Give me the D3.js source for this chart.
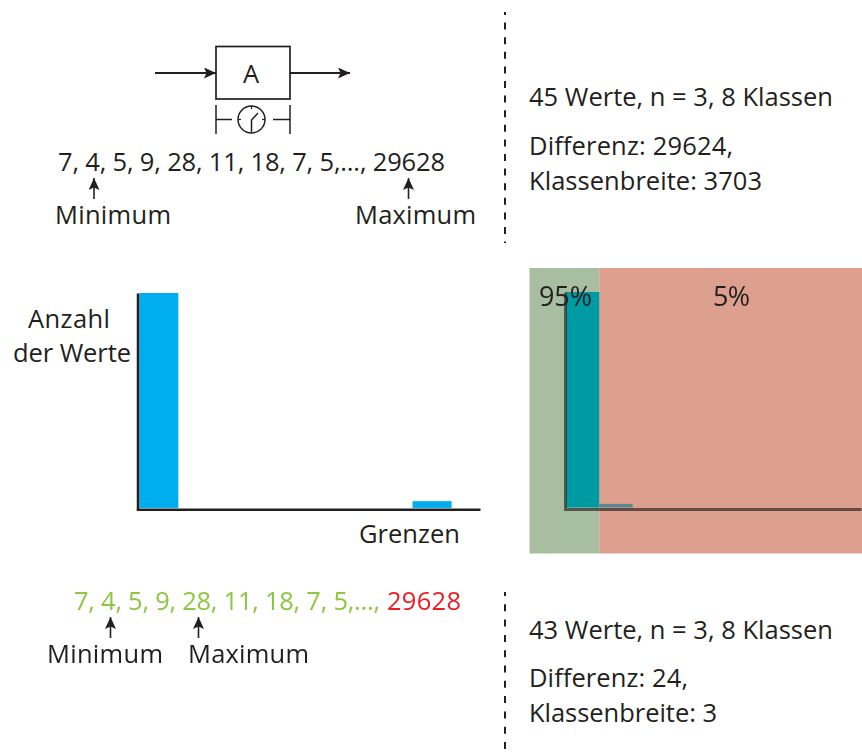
<!DOCTYPE html>
<html>
<head>
<meta charset="utf-8">
<script src="https://cdn.jsdelivr.net/npm/d3@7"></script>
<style>
  html, body { margin: 0; padding: 0; background: #fff; }
  svg { display: block; }
  text { font-family: "Open Sans", sans-serif; font-size: 25.5px; fill: #231f20; }
</style>
</head>
<body>
<div id="my_dataviz"></div>
<script>
// --- Data ---
const classes = [1, 2, 3, 4, 5, 6, 7, 8];
const countsAll = [43, 0, 0, 0, 0, 0, 0, 1.6];
const countsZones = [43, 1, 0, 0, 0, 0, 0, 0];
const shareLabels = ["95%", "5%"];
const rawValues = "7, 4, 5, 9, 28, 11, 18, 7, 5,...,";
const outlier = "29628";
const upperNotes = ["45 Werte, n = 3, 8 Klassen", "Differenz: 29624,", "Klassenbreite: 3703"];
const lowerNotes = ["43 Werte, n = 3, 8 Klassen", "Differenz: 24,", "Klassenbreite: 3"];

const svg = d3.select("#my_dataviz")
  .append("svg")
  .attr("width", 862)
  .attr("height", 755);

const ink = "#231f20";

svg.append("defs").append("marker")
  .attr("id", "head")
  .attr("viewBox", "0 0 12 11")
  .attr("refX", 12)
  .attr("refY", 5.5)
  .attr("markerUnits", "userSpaceOnUse")
  .attr("markerWidth", 12)
  .attr("markerHeight", 11)
  .attr("orient", "auto")
  .append("path")
  .attr("d", "M0,0 L12,5.5 L0,11 L2.5,5.5 Z")
  .attr("fill", ink);

function line(x1, y1, x2, y2, width, arrow) {
  const l = svg.append("line")
    .attr("x1", x1).attr("y1", y1)
    .attr("x2", x2).attr("y2", y2)
    .attr("stroke", ink)
    .attr("stroke-width", width);
  if (arrow) l.attr("marker-end", "url(#head)");
  return l;
}

// fit is the width the text has in the reference
function label(x, y, str, fit, fill) {
  const t = svg.append("text").attr("x", x).attr("y", y).text(str);
  if (fit) t.attr("textLength", fit).attr("lengthAdjust", "spacing");
  if (fill) t.style("fill", fill);
  return t;
}

// 1. Process box with clock symbol
line(155, 73, 216, 73, 1.8, true);
line(290, 73, 350, 73, 1.8, true);
svg.append("rect")
  .attr("x", 216).attr("y", 46.5)
  .attr("width", 74).attr("height", 52.5)
  .attr("fill", "none")
  .attr("stroke", ink)
  .attr("stroke-width", 1.7);
label(251, 83, "A").attr("text-anchor", "middle");

line(216, 105, 216, 134, 1.5);
line(290, 105, 290, 134, 1.5);
line(216, 119.5, 232, 119.5, 1.5);
line(273, 119.5, 290, 119.5, 1.5);
svg.append("circle")
  .attr("cx", 251.5).attr("cy", 119.5).attr("r", 13.5)
  .attr("fill", "none")
  .attr("stroke", ink)
  .attr("stroke-width", 1.5);
line(251.5, 132, 251.5, 120, 1.5);
line(251.5, 120, 258, 113, 1.5);
line(251.5, 106, 251.5, 109, 1.2);
line(238, 119.5, 241, 119.5, 1.2);
line(262, 119.5, 265, 119.5, 1.2);

// 2. Upper value list
label(58, 171, rawValues + " " + outlier, 387);
line(94, 199, 94, 178, 1.6, true);
line(408.5, 199, 408.5, 178, 1.6, true);
label(55, 224, "Minimum", 116);
label(355, 224, "Maximum", 121);

// 3. Dashed separators, both start on a cut-off dash
line(505, 12, 505, 243, 2)
  .attr("stroke-dasharray", "7,7.6")
  .attr("stroke-dashoffset", 4);
line(505, 592, 505, 749, 2)
  .attr("stroke-dasharray", "7,8.3")
  .attr("stroke-dashoffset", 3);

// 4. Notes on the right
function notes(rows, y0, y1, y2, fits) {
  label(529, y0, rows[0], fits[0]);
  label(529, y1, rows[1], fits[1]);
  label(529, y2, rows[2], fits[2]);
}
notes(upperNotes, 106, 155, 190, [304, 204, 233]);
notes(lowerNotes, 639, 687, 722, [304, 159, 188]);

// 5. Histogram helpers
function histogram(x0, x1, yTop, yBase, xEnd, axisWidth) {
  const x = d3.scaleBand().domain(classes).range([x0, x1]);
  const y = d3.scaleLinear().domain([0, 43]).range([yBase, yTop]);
  return { x, y, xEnd, axisWidth };
}

function drawAxes(h, x0, color, opacity) {
  const g = svg.append("g").attr("opacity", opacity);
  const yAxis = g.append("g")
    .attr("transform", `translate(${x0},0)`)
    .call(d3.axisLeft(h.y).tickValues([]).tickSize(0));
  const xAxis = g.append("g")
    .attr("transform", `translate(0,${h.y(0)})`)
    .call(d3.axisBottom(d3.scaleLinear().domain([0, 1]).range([x0 - h.axisWidth / 2, h.xEnd]))
      .tickValues([]).tickSize(0));
  [yAxis, xAxis].forEach(a => a.select(".domain")
    .attr("stroke", color)
    .attr("stroke-width", h.axisWidth));
}

function drawBars(h, counts, colors) {
  svg.append("g")
    .selectAll("rect")
    .data(classes.map((c, i) => ({ c, v: counts[i] })).filter(d => d.v > 0))
    .enter()
    .append("rect")
    .attr("x", d => h.x(d.c))
    .attr("y", d => h.y(d.v))
    .attr("width", h.x.bandwidth())
    .attr("height", d => h.y(0) - h.y(d.v) - h.axisWidth / 2)
    .attr("fill", (d, i) => colors[i]);
}

// 6. Plain histogram
const left = histogram(139.3, 451.6, 293, 509.2, 480, 2.5);
drawBars(left, countsAll, ["#00aeef", "#00aeef"]);
drawAxes(left, 137.5, ink, 1);
label(28, 328, "Anzahl", 82);
label(13, 362, "der Werte", 118);
label(359, 543, "Grenzen", 101);

// 7. Same histogram with the 95% / 5% zones
const zoneX = d3.scaleLinear().domain([0, 1]).range([529.5, 862]);
const split = 0.2096;
svg.append("rect")
  .attr("x", zoneX(0)).attr("y", 268)
  .attr("width", zoneX(split) - zoneX(0)).attr("height", 285.5)
  .attr("fill", "#a7bea0");
svg.append("rect")
  .attr("x", zoneX(split)).attr("y", 268)
  .attr("width", zoneX(1) - zoneX(split)).attr("height", 285.5)
  .attr("fill", "#dea08e");

const right = histogram(566, 832.5, 292, 509, 861, 3);
drawBars(right, countsZones, ["#009aa3", "#5b8890"]);
drawAxes(right, 565, ink, 0.65);

label(539, 306, shareLabels[0], 53).style("font-size", "27px");
label(713, 306, shareLabels[1], 37).style("font-size", "27px");

// 8. Lower value list, outlier in red
label(74, 610, rawValues, 306, "#8dc63f");
label(387, 610, outlier, 74, "#ed1c24");
line(110.5, 638, 110.5, 617, 1.6, true);
line(198.5, 638, 198.5, 617, 1.6, true);
label(47, 663, "Minimum", 116);
label(188, 663, "Maximum", 121);
</script>
</body>
</html>
